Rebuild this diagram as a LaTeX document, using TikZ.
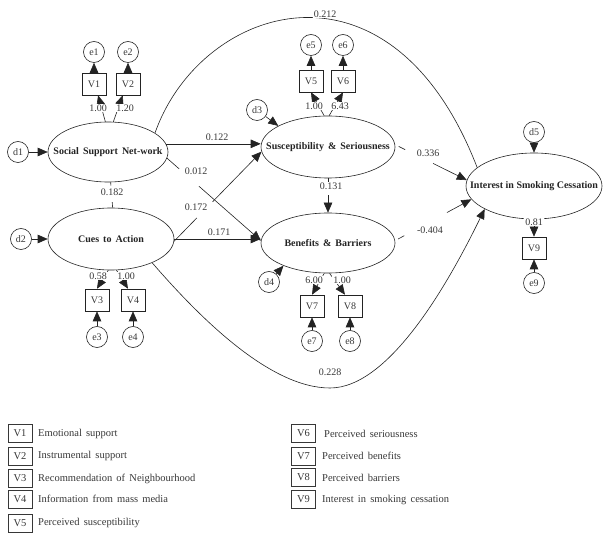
\documentclass[tikz,border=0pt]{standalone}
\usepackage{fontspec}
\setmainfont{Liberation Serif}[WordSpace=1.6]
\usetikzlibrary{shapes.geometric,arrows.meta,calc}
\definecolor{lc}{RGB}{35,35,35}
\definecolor{tg}{RGB}{55,55,55}
\begin{document}
\begin{tikzpicture}[x=1pt,y=-1pt,
  every node/.style={font=\fontsize{10}{12}\selectfont, text=tg},
  lat/.style={draw=lc, line width=0.6pt, ellipse, inner sep=0pt},
  latlbl/.style={font=\bfseries\fontsize{10}{12}\selectfont, text=lc},
  err/.style={draw=lc, line width=0.6pt, circle, minimum size=21pt, inner sep=0pt},
  obs/.style={draw=lc, line width=0.6pt, rectangle, minimum width=24pt, minimum height=22pt, inner sep=0pt},
  leg/.style={draw=tg, line width=0.9pt, rectangle, minimum width=24pt, minimum height=18pt, inner sep=0pt, font=\fontsize{10.5}{12}\selectfont},
  legtxt/.style={anchor=west, inner sep=1pt, font=\fontsize{10.5}{12}\selectfont},
  wl/.style={fill=white, inner sep=0.8pt},
  lbl/.style={inner sep=1pt},
  ln/.style={draw=lc, line width=0.6pt},
  arr/.style={draw=lc, line width=0.6pt, -{Triangle[length=10pt,width=8.5pt]}}]
\useasboundingbox (0,0) rectangle (605,534);

% latent variables
\node[lat, minimum width=120pt, minimum height=60pt, label={[latlbl]center:Social Support Net-work}] (sn) at (108,152) {};
\node[lat, minimum width=126pt, minimum height=62pt, label={[latlbl]center:Cues to Action}] (ca) at (111,239) {};
\node[lat, minimum width=134pt, minimum height=62pt, label={[latlbl]center:Susceptibility \& Seriousness}] (ss) at (328,147) {};
\node[lat, minimum width=134pt, minimum height=60pt, label={[latlbl]center:Benefits \& Barriers}] (bb) at (328,243) {};
\node[lat, minimum width=136pt, minimum height=66pt, label={[latlbl]center:{\spaceskip=2.5pt\relax Interest in Smoking Cessation}}] (int) at (534,186) {};

% observed
\node[obs] (v1) at (94,84) {V1};
\node[obs] (v2) at (128,84) {V2};
\node[obs] (v3) at (97,300) {V3};
\node[obs] (v4) at (133,300) {V4};
\node[obs] (v5) at (311,81) {V5};
\node[obs] (v6) at (343,81) {V6};
\node[obs] (v7) at (312,306) {V7};
\node[obs] (v8) at (350,306) {V8};
\node[obs] (v9) at (534,248) {V9};

% errors / disturbances
\node[err] (e1) at (94,52) {e1};
\node[err] (e2) at (128,52) {e2};
\node[err] (e3) at (97,337) {e3};
\node[err] (e4) at (133,337) {e4};
\node[err] (e5) at (311,45) {e5};
\node[err] (e6) at (343,45) {e6};
\node[err] (e7) at (312,341) {e7};
\node[err] (e8) at (350,341) {e8};
\node[err] (e9) at (534,283) {e9};
\node[err] (d1) at (18,152) {d1};
\node[err] (d2) at (21,239) {d2};
\node[err] (d3) at (257,110) {d3};
\node[err] (d4) at (269,282) {d4};
\node[err] (d5) at (534,132) {d5};

% error arrows
\draw[arr] (v1) -- (e1);
\draw[arr] (v2) -- (e2);
\draw[arr] (e3) -- (v3);
\draw[arr] (e4) -- (v4);
\draw[arr] (v5) -- (e5);
\draw[arr] (v6) -- (e6);
\draw[arr] (e7) -- (v7);
\draw[arr] (e8) -- (v8);
\draw[arr] (e9) -- (v9);
\draw[arr] (d1) -- (sn);
\draw[arr] (d2) -- (ca);
\draw[arr] (d3) -- (ss.157);
\draw[arr] (d4) -- (bb.207);
\draw[arr] (d5) -- (int);

% loadings
\draw[arr] (sn.95) -- (v1.-70);
\draw[arr] (sn.80) -- (v2.-115);
\draw[arr] (ca.-95) -- (v3.north);
\draw[arr] (ca.-80) -- (v4.114);
\draw[arr] (ss.97) -- (v5.south);
\draw[arr] (ss.88) -- (v6.south);
\draw[arr] (bb.-97) -- (v7.north);
\draw[arr] (bb.-87) -- (v8.114);
\draw[arr] (int) -- (v9);

\node[wl] (l100a) at (98,108) {1.00};
\node[wl] (l120) at (125,108) {1.20};
\node[wl] (l058) at (98,276) {0.58};
\node[wl] (l100b) at (126,276) {1.00};
\node[wl] (l100c) at (314,106) {1.00};
\node[wl] (l643) at (340,106) {6.43};
\node[wl] (l600) at (314,280) {6.00};
\node[wl] (l100d) at (342,280) {1.00};
\node[wl] (l081) at (534,222) {0.81};

% structural paths
\draw[arr] (sn.8) -- (sn.8 -| ss.west);
\node[lbl] (p122) at (217,137) {0.122};

\draw[ln] (sn.-6) -- ($(sn.-6)!0.13!(bb.178)$);
\draw[arr] ($(sn.-6)!0.34!(bb.178)$) -- (bb.178);
\node[lbl] (p012) at (196,171) {0.012};

\draw[ln] (ca.-2) -- ($(ca.-2)!0.26!(ss.184)$);
\draw[arr] ($(ca.-2)!0.44!(ss.184)$) -- (ss.184);
\node[lbl] (p172) at (196,207) {0.172};

\draw[arr] (ca.east) -- (ca.east -| bb.west);
\node[lbl] (p171) at (219,232) {0.171};

\draw[ln] (sn.-85) -- ($(sn.-85)!0.13!(ca.87)$);
\draw[ln] ($(sn.-85)!0.78!(ca.87)$) -- (ca.87);
\node[lbl] (p182) at (112,192) {0.182};

\draw[ln] (ss.south) -- ($(ss.south)!0.1!(bb.north)$);
\draw[arr] ($(ss.south)!0.5!(bb.north)$) -- (bb.north);
\node[lbl] (p131) at (331,186) {0.131};

\draw[ln] ($(ss.2)!0.05!(int.175)$) -- ($(ss.2)!0.14!(int.175)$);
\draw[arr] ($(ss.2)!0.53!(int.175)$) -- (int.175);
\node[lbl] (p336) at (428,153) {0.336};

\draw[ln] ($(bb.2)!0.04!(int.192)$) -- ($(bb.2)!0.12!(int.192)$);
\draw[arr] ($(bb.2)!0.68!(int.192)$) -- (int.192);
\node[lbl] (p404) at (430,230) {-0.404};

\draw[ln] (sn.22) .. controls (200,5) and (390,-58) .. (int.162);
\node[wl] (p212) at (325,14) {0.212};

\coordinate (cb) at (330,388);
\draw[arr] (ca.-30) .. controls (200,318) and (270,388) .. (cb) .. controls (390,388) and (450,280) .. (int.205);
\node[lbl] (p228) at (330,372) {0.228};

% legend
\node[leg] (g1) at (20,433.5) {V1};
\node[legtxt] (t1) at (37,433.5) {Emotional support};
\node[leg] (g2) at (20,456) {V2};
\node[legtxt] (t2) at (37,456) {Instrumental support};
\node[leg] (g3) at (20,478.5) {V3};
\node[legtxt] (t3) at (37,478.5) {Recommendation of Neighbourhood};
\node[leg] (g4) at (20,499) {V4};
\node[legtxt] (t4) at (37,499) {Information from mass media};
\node[leg] (g5) at (20,523) {V5};
\node[legtxt] (t5) at (37,523) {Perceived susceptibility};

\node[leg] (g6) at (303.5,433.5) {V6};
\node[legtxt] (t6) at (323,433.5) {Perceived seriousness};
\node[leg] (g7) at (303.5,456) {V7};
\node[legtxt] (t7) at (321,456) {Perceived benefits};
\node[leg] (g8) at (303.5,477.5) {V8};
\node[legtxt] (t8) at (321,477.5) {Perceived barriers};
\node[leg] (g9) at (303.5,499.5) {V9};
\node[legtxt] (t9) at (321,499.5) {Interest in smoking cessation};
\end{tikzpicture}
\end{document}
